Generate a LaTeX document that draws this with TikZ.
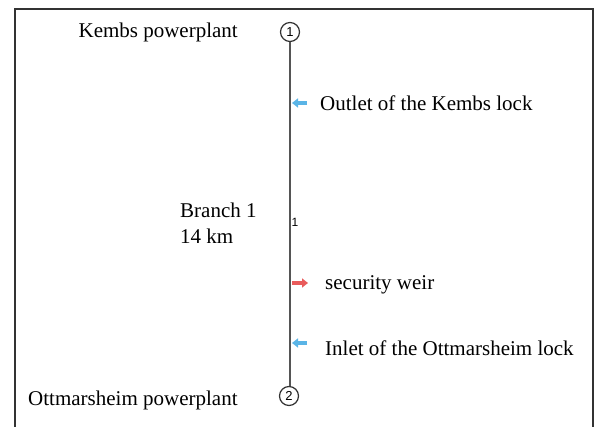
\documentclass[tikz,border=0pt]{standalone}
\usepackage{fontspec}
\setmainfont{Liberation Serif}
\setsansfont{Liberation Sans}
\usetikzlibrary{arrows.meta}
\definecolor{framegray}{HTML}{333333}
\definecolor{linegray}{HTML}{555555}
\definecolor{flowblue}{HTML}{5AB4E6}
\definecolor{flowred}{HTML}{E95B5B}
\tikzset{
  lbl/.style={font=\fontsize{21}{24}\selectfont, inner sep=0pt, anchor=base west},
  station/.style={circle, draw=framegray, line width=1.2pt, minimum size=19pt, inner sep=0pt, font=\sffamily\fontsize{13}{14}\selectfont},
  flowarrow/.style={line width=3.2pt, -{Triangle[length=6pt,width=9pt]}},
}
\begin{document}
\begin{tikzpicture}[x=1pt,y=-1pt]
\useasboundingbox (0,0) rectangle (596,427);
\fill[white] (0,0) rectangle (596,427);
\draw[framegray, line width=2pt] (15,427) -- (15,9) -- (593,9) -- (593,427);
\node[station] (c1) at (290,32) {1};
\node[station] (c2) at (289,396) {2};
\draw[linegray, line width=1.4pt] (c1.south) -- (c1.south |- c2.north);
\node[font=\sffamily\fontsize{12}{13}\selectfont, inner sep=0pt] (b1) at (295,222) {1};
\node[lbl, anchor=base east] (kembs) at (238,38) {Kembs powerplant};
\node[lbl] (outlet) at (320,111) {Outlet of the Kembs lock};
\node[lbl] (branch) at (180,218) {Branch 1};
\node[lbl] (km) at (180,244) {14 km};
\node[lbl] (weir) at (325,289) {security weir};
\node[lbl] (inlet) at (325,355) {Inlet of the Ottmarsheim lock};
\node[lbl] (ott) at (28,405) {Ottmarsheim powerplant};
\coordinate (a1s) at (307,103); \coordinate (a1e) at (292,103);
\coordinate (a2s) at (292,283); \coordinate (a2e) at (308,283);
\coordinate (a3s) at (307,343); \coordinate (a3e) at (292,343);
\draw[flowarrow, flowblue] (a1s) -- (a1e);
\draw[flowarrow, flowred] (a2s) -- (a2e);
\draw[flowarrow, flowblue] (a3s) -- (a3e);
\end{tikzpicture}
\end{document}
